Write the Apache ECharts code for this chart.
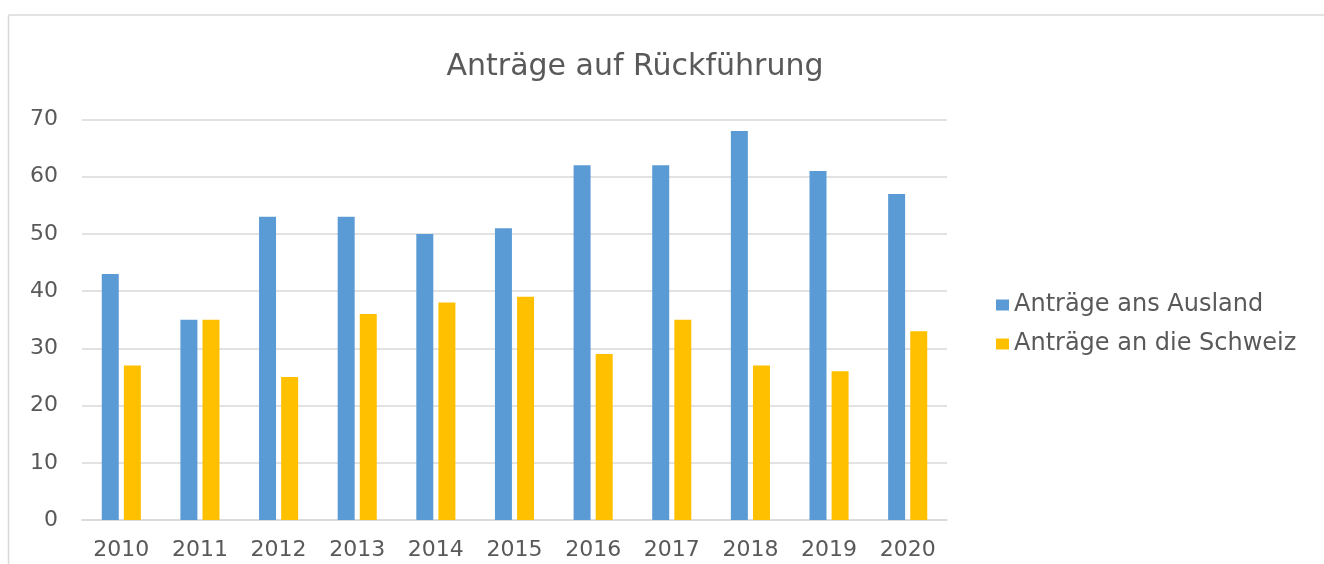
<!DOCTYPE html>
<html>
<head>
<meta charset="utf-8">
<script src="https://cdn.jsdelivr.net/npm/echarts@6/dist/echarts.min.js"></script>
<style>
  html, body { margin: 0; padding: 0; background: #ffffff; }
  #chart { width: 1324px; height: 564px; }
</style>
</head>
<body>
<div id="chart"></div>
<script>
const titleText = 'Anträge auf Rückführung';
const categories = ['2010', '2011', '2012', '2013', '2014', '2015', '2016', '2017', '2018', '2019', '2020'];
const seriesNames = ['Anträge ans Ausland', 'Anträge an die Schweiz'];
const auslandValues = [43, 35, 53, 53, 50, 51, 62, 62, 68, 61, 57];
const schweizValues = [27, 35, 25, 36, 38, 39, 29, 35, 27, 26, 33];
const yMin = 0, yMax = 70, yInterval = 10;

const FONT = 'DejaVu Sans';
const TEXT = '#595959';
const GRID = '#d9d9d9';

const chart = echarts.init(document.getElementById('chart'), null, { renderer: 'canvas' });
chart.setOption({
  backgroundColor: '#ffffff',
  animation: false,
  graphic: [
    {
      type: 'line', silent: true,
      shape: { x1: 8.5, y1: 15, x2: 1330, y2: 15 },
      style: { stroke: GRID, lineWidth: 1.5 }
    },
    {
      type: 'line', silent: true,
      shape: { x1: 8.5, y1: 15, x2: 8.5, y2: 570 },
      style: { stroke: GRID, lineWidth: 1.5 }
    }
  ],
  title: {
    text: titleText,
    left: 630,
    textAlign: 'center',
    top: 47,
    textStyle: { fontFamily: FONT, fontSize: 30, fontWeight: 'normal', color: TEXT }
  },
  legend: {
    orient: 'vertical',
    left: 991,
    top: 288,
    itemWidth: 13,
    itemHeight: 11,
    itemGap: 15,
    icon: 'rect',
    textStyle: { fontFamily: FONT, fontSize: 24, color: TEXT },
    data: seriesNames
  },
  grid: { left: 82, right: 377, top: 119.5, bottom: 44, containLabel: false },
  xAxis: {
    type: 'category',
    data: categories,
    axisLine: { lineStyle: { color: GRID, width: 1.5 } },
    axisTick: { show: false },
    axisLabel: { fontFamily: FONT, fontSize: 22, color: TEXT, margin: 19 }
  },
  yAxis: {
    type: 'value',
    min: yMin,
    max: yMax,
    interval: yInterval,
    axisLine: { show: false },
    axisTick: { show: false },
    axisLabel: { fontFamily: FONT, fontSize: 22, color: TEXT, margin: 24 },
    splitLine: { lineStyle: { color: GRID, width: 1.5 } }
  },
  series: [
    {
      name: seriesNames[0],
      type: 'bar',
      data: auslandValues,
      barWidth: 17,
      barGap: '30%',
      itemStyle: { color: '#5b9bd5' }
    },
    {
      name: seriesNames[1],
      type: 'bar',
      data: schweizValues,
      barWidth: 17,
      barGap: '30%',
      itemStyle: { color: '#ffc000' }
    }
  ]
});
</script>
</body>
</html>
